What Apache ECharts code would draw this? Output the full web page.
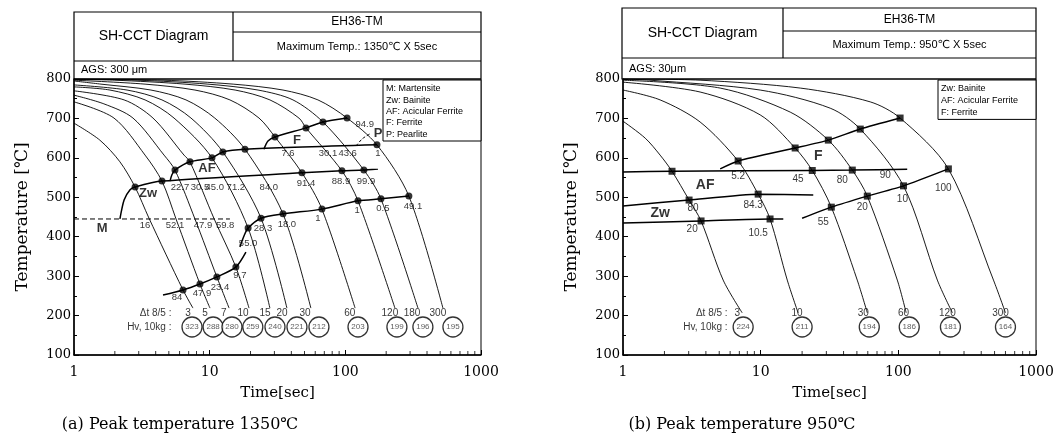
<!DOCTYPE html>
<html>
<head>
<meta charset="utf-8">
<script src="https://cdn.jsdelivr.net/npm/echarts/dist/echarts.min.js"></script>
<style>
  html, body { margin: 0; padding: 0; background: #fff; }
  #chart { width: 1056px; height: 438px; }
</style>
</head>
<body>
<div id="chart"></div>
<script>
// ---- (a) peak temperature 1350 C ----
const coolRatesA = ['3', '5', '7', '10', '15', '20', '30', '60', '120', '180', '300'];
const hardnessA = [323, 288, 280, 259, 240, 221, 212, 203, 199, 196, 195];
const rateTimesA = [6.92, 9.23, 12.7, 17.6, 25.6, 34.1, 50.4, 108, 213, 310, 481];
const hvTimesA = [7.41, 10.6, 14.6, 20.8, 30.3, 44.0, 63.9, 124, 240, 373, 621];

const coolCurvesA = [
  [[1, 688], [1.55, 645], [2.18, 590], [2.82, 526], [3.57, 447], [6.36, 265], [7.53, 219]],
  [[1, 742], [1.97, 701], [3.34, 607], [4.45, 541], [5.65, 445], [8.48, 280], [10.05, 219]],
  [[1, 759], [1.66, 737], [2.72, 701], [4.61, 607], [5.55, 569], [7.79, 445], [11.3, 298], [13.9, 219]],
  [[1, 770], [2.34, 747], [3.82, 701], [6.47, 607], [7.16, 590], [10.8, 445], [15.6, 323], [19.5, 219]],
  [[1, 780], [1.84, 772], [3.34, 747], [5.46, 701], [10.4, 600], [19.2, 422], [27.8, 219]],
  [[1, 785], [2.46, 772], [4.45, 747], [7.28, 701], [12.5, 615], [23.9, 447], [37.1, 219]],
  [[1, 795], [1.58, 787], [3.69, 772], [6.69, 747], [10.9, 701], [18.2, 622], [34.7, 458], [55.7, 219]],
  [[1, 797], [3.34, 787], [7.79, 772], [14.1, 747], [23.1, 701], [30.3, 653], [47.9, 562], [67.2, 470], [118, 219]],
  [[1, 799], [2.0, 797], [6.58, 787], [15.4, 772], [27.8, 747], [45.5, 701], [51.3, 676], [94.4, 567], [124, 491], [232, 219]],
  [[1, 800], [2.96, 797], [9.71, 787], [22.7, 772], [41.1, 747], [68.4, 691], [137, 569], [183, 496], [343, 219]],
  [[1, 800], [4.53, 797], [14.9, 787], [34.7, 772], [62.8, 747], [103, 701], [171, 633], [294, 503], [524, 219]]
];

const zwStartA = [[2.18, 445], [2.34, 493], [2.59, 519], [2.82, 526], [4.45, 541], [47.9, 562], [94.4, 567], [137, 569], [174, 572]];
const afStartA = [[5.10, 541], [5.27, 557], [5.55, 569], [7.16, 590], [10.4, 600], [12.5, 615], [18.2, 622], [171, 633]];
const fStartA = [[25.1, 622], [26.9, 643], [30.3, 653], [51.3, 676], [68.4, 691], [103, 701]];
const zwEndA = [[16.7, 374], [17.9, 402], [19.2, 422], [23.9, 447], [34.7, 458], [67.2, 470], [124, 491], [183, 496], [294, 503]];
const msEndA = [[4.53, 252], [6.36, 265], [8.48, 280], [11.3, 298], [15.6, 323], [18.5, 361]];
const msLineA = [[1, 445], [14.1, 445]];
const pStartA = [[120, 630], [133, 648], [152, 661]];

const dotsA = [
  [2.82, 526], [4.45, 541], [47.9, 562], [94.4, 567], [137, 569],
  [5.55, 569], [7.16, 590], [10.4, 600], [12.5, 615], [18.2, 622], [171, 633],
  [30.3, 653], [51.3, 676], [68.4, 691], [103, 701],
  [19.2, 422], [23.9, 447], [34.7, 458], [67.2, 470], [124, 491], [183, 496], [294, 503],
  [6.36, 265], [8.48, 280], [11.3, 298], [15.6, 323]
];

const phaseNotesA = [['M', 1.61, 422], ['Zw', 3.51, 511], ['AF', 9.55, 574], ['F', 44.0, 645], ['P', 174, 661]];
const fractionNotesA = [
  ['22.7', 6.04, 524], ['30.5', 8.48, 524], ['45.0', 10.9, 524], ['71.2', 15.6, 524], ['84.0', 27.3, 524],
  ['91.4', 51.3, 536], ['88.9', 92.8, 541], ['99.9', 142, 541],
  ['16', 3.34, 430], ['52.1', 5.55, 430], ['47.9', 8.93, 430], ['59.8', 13.0, 430],
  ['7.6', 37.8, 612], ['30.1', 74.5, 612], ['43.6', 104, 612], ['1', 174, 612], ['94.9', 139, 686],
  ['28.3', 24.7, 422], ['18.0', 37.1, 432], ['1', 62.8, 447], ['1', 122, 468], ['0.5', 189, 473], ['49.1', 315, 476],
  ['55.0', 19.2, 384],
  ['84', 5.74, 245], ['47.9', 8.77, 257], ['23.4', 11.9, 272], ['9.7', 16.7, 303]
];
const legendA = ['M: Martensite', 'Zw: Bainite', 'AF: Acicular Ferrite', 'F: Ferrite', 'P: Pearlite'];

// ---- (b) peak temperature 950 C ----
const coolRatesB = ['3', '10', '30', '60', '120', '300'];
const hardnessB = [224, 211, 194, 186, 181, 164];
const rateTimesB = [6.75, 18.4, 55.6, 109, 227, 552];
const hvTimesB = [7.46, 20.0, 61.5, 120, 239, 600];

const coolCurvesB = [
  [[1, 693], [1.45, 650], [1.86, 607], [2.27, 566], [3.02, 493], [3.69, 440], [5.34, 290], [7.34, 207]],
  [[1, 772], [1.86, 747], [3.63, 691], [6.86, 592], [9.59, 508], [11.7, 445], [15.6, 290], [18.7, 207]],
  [[1, 792], [3.63, 767], [9.92, 709], [17.8, 625], [23.7, 568], [32.6, 475], [50.3, 290], [59.5, 207]],
  [[1, 797], [5.08, 777], [16.4, 716], [31.0, 645], [46.3, 569], [59.5, 503], [98.3, 290], [114, 207]],
  [[1, 800], [1.57, 797], [9.92, 772], [32.0, 726], [52.9, 673], [109, 529], [192, 290], [247, 207]],
  [[1, 800], [3.63, 797], [19.4, 777], [62.5, 742], [103, 701], [231, 572], [491, 290], [600, 207]]
];

const fStartB = [[5.08, 572], [6.86, 592], [17.8, 625], [31.0, 645], [52.9, 673], [103, 701]];
const afStartB = [[1, 564], [2.27, 566], [23.7, 568], [46.3, 569], [116, 571]];
const zwStartB = [[1, 478], [3.02, 493], [9.59, 508], [24.1, 506]];
const zwEndB = [[1, 435], [3.69, 440], [11.7, 445], [14.6, 445]];
const lowerRightB = [[20.0, 447], [32.6, 475], [59.5, 503], [109, 529], [231, 572]];

const dotsB = [
  [6.86, 592], [17.8, 625], [31.0, 645], [52.9, 673], [103, 701],
  [2.27, 566], [23.7, 568], [46.3, 569],
  [3.02, 493], [9.59, 508],
  [3.69, 440], [11.7, 445],
  [32.6, 475], [59.5, 503], [109, 529], [231, 572]
];

const phaseNotesB = [['F', 26.2, 605], ['AF', 3.95, 531], ['Zw', 1.86, 460]];
const fractionNotesB = [
  ['5.2', 6.86, 554], ['45', 18.7, 546], ['80', 39.2, 544], ['90', 80.4, 557],
  ['80', 3.23, 473], ['84.3', 8.82, 480], ['20', 3.18, 420], ['10.5', 9.59, 409],
  ['55', 28.5, 437], ['20', 54.7, 475], ['10', 107, 496], ['100', 212, 524]
];
const legendB = ['Zw: Bainite', 'AF: Acicular Ferrite', 'F: Ferrite'];

const minorTickTimes = [2, 3, 4, 5, 6, 7, 8, 9, 20, 30, 40, 50, 60, 70, 80, 90, 200, 300, 400, 500, 600, 700, 800, 900];

const serif = "'DejaVu Serif', 'Liberation Serif', serif";
const sans = "'Liberation Sans', 'DejaVu Sans', Arial, sans-serif";

const grids = [
  { left: 74, top: 79, width: 407, height: 276 },
  { left: 623, top: 79, width: 413, height: 276 }
];

const series = [];

function addLine(gi, data, width, extra) {
  series.push(Object.assign({
    type: 'line', xAxisIndex: gi, yAxisIndex: gi, data: data,
    showSymbol: false, symbol: 'none', smooth: 0.3,
    silent: true, lineStyle: { color: '#000', width: width }
  }, extra || {}));
}

function addDots(gi, data, symbol, size) {
  series.push({
    type: 'scatter', xAxisIndex: gi, yAxisIndex: gi, data: data, silent: true,
    symbol: symbol, symbolSize: size, itemStyle: { color: '#000' }, z: 5
  });
}

function addNotes(gi, notes, fontSize, fontWeight) {
  series.push({
    type: 'scatter', xAxisIndex: gi, yAxisIndex: gi, silent: true, clip: false,
    symbolSize: 1, itemStyle: { color: 'transparent' },
    data: notes.map(n => ({ name: n[0], value: [n[1], n[2]] })),
    label: {
      show: true, position: 'inside', formatter: p => p.name,
      color: '#000', fontFamily: sans, fontSize: fontSize, fontWeight: fontWeight || 'normal'
    }, z: 6
  });
}

function addBottomRows(gi, rates, rateTimes, hv, hvTimes, headTime) {
  addNotes(gi, rates.map((r, i) => [r, rateTimes[i], 205]), 10);
  series.push({
    type: 'scatter', xAxisIndex: gi, yAxisIndex: gi, silent: true, clip: false,
    symbol: 'circle', symbolSize: 20,
    itemStyle: { color: '#fff', borderColor: '#000', borderWidth: 1.3 },
    data: hv.map((h, i) => ({ name: String(h), value: [hvTimes[i], 171] })),
    label: { show: true, position: 'inside', formatter: p => p.name, color: '#333', fontFamily: sans, fontSize: 8 },
    z: 6
  });
  series.push({
    type: 'scatter', xAxisIndex: gi, yAxisIndex: gi, silent: true, clip: false,
    symbolSize: 1, itemStyle: { color: 'transparent' },
    data: [{ name: 'Δt 8/5 :', value: [headTime, 205] }, { name: 'Hv, 10kg :', value: [headTime, 171] }],
    label: { show: true, position: 'left', distance: 0, formatter: p => p.name, color: '#000', fontFamily: sans, fontSize: 10 }
  });
}

function addMinorTicks(gi) {
  series.push({
    type: 'scatter', xAxisIndex: gi, yAxisIndex: gi, silent: true, clip: false,
    symbol: 'rect', symbolSize: [1, 4], symbolOffset: [0, -2],
    itemStyle: { color: '#000' },
    data: minorTickTimes.map(t => [t, 100])
  });
}

// panel (a)
coolCurvesA.forEach(c => addLine(0, c, 0.9));
[zwStartA, afStartA, fStartA, zwEndA, msEndA].forEach(l => addLine(0, l, 1.5, { smooth: 0.25 }));
addLine(0, msLineA, 1, { smooth: false, lineStyle: { color: '#000', width: 1, type: [5, 3] } });
addLine(0, pStartA, 1, { lineStyle: { color: '#000', width: 1, type: [3, 2] } });
addDots(0, dotsA, 'circle', 7);
addNotes(0, phaseNotesA, 13, 'bold');
addNotes(0, fractionNotesA, 9.5);
addBottomRows(0, coolRatesA, rateTimesA, hardnessA, hvTimesA, 5.27);
addMinorTicks(0);

// panel (b)
coolCurvesB.forEach(c => addLine(1, c, 0.9));
[fStartB, afStartB, zwStartB, zwEndB, lowerRightB].forEach(l => addLine(1, l, 1.5, { smooth: 0.2 }));
addDots(1, dotsB, 'rect', 7);
addNotes(1, phaseNotesB, 14, 'bold');
addNotes(1, fractionNotesB, 10);
addBottomRows(1, coolRatesB, rateTimesB, hardnessB, hvTimesB, 5.80);
addMinorTicks(1);

const axisLineStyle = { color: '#000', width: 1.5 };

const xAxes = grids.map((g, i) => ({
  type: 'log', logBase: 10, min: 1, max: 1000, gridIndex: i,
  axisLine: { show: true, lineStyle: axisLineStyle },
  axisTick: { show: true, inside: true, length: 5, lineStyle: { color: '#000', width: 1 } },
  splitLine: { show: false },
  axisLabel: { color: '#000', fontFamily: serif, fontSize: 14, margin: 10, formatter: v => String(Math.round(v)) },
  name: 'Time[sec]', nameLocation: 'middle', nameGap: 31,
  nameTextStyle: { color: '#000', fontFamily: serif, fontSize: 15 }
}));

const yAxes = grids.map((g, i) => ({
  type: 'value', min: 100, max: 800, interval: 100, gridIndex: i,
  axisLine: { show: true, lineStyle: axisLineStyle },
  axisTick: { show: true, inside: true, length: 5, lineStyle: { color: '#000', width: 1 } },
  minorTick: { show: true, splitNumber: 2, length: 3, lineStyle: { color: '#000', width: 1 } },
  splitLine: { show: false },
  minorSplitLine: { show: false },
  axisLabel: { color: '#000', fontFamily: serif, fontSize: 13, margin: 3 },
  name: 'Temperature [℃]', nameLocation: 'middle', nameGap: 43, nameRotate: 90,
  nameTextStyle: { color: '#000', fontFamily: serif, fontSize: 17 }
}));

// header boxes, legends and captions
const graphics = [];
function rect(x, y, w, h) {
  graphics.push({ type: 'rect', shape: { x: x, y: y, width: w, height: h }, style: { fill: 'none', stroke: '#000', lineWidth: 1.2 }, silent: true });
}
function hline(x1, x2, y) {
  graphics.push({ type: 'line', shape: { x1: x1, y1: y, x2: x2, y2: y }, style: { stroke: '#000', lineWidth: 1.2 }, silent: true });
}
function vline(x, y1, y2) {
  graphics.push({ type: 'line', shape: { x1: x, y1: y1, x2: x, y2: y2 }, style: { stroke: '#000', lineWidth: 1.2 }, silent: true });
}
function text(str, x, y, size, align, family) {
  graphics.push({
    type: 'text', x: x, y: y, silent: true,
    style: { text: str, fill: '#000', fontSize: size, fontFamily: family || sans, align: align || 'center', verticalAlign: 'middle' }
  });
}

function header(x0, x1, top, xDiv, yMid, yBot, yPlot, lines) {
  rect(x0, top, x1 - x0, yPlot - top);
  vline(xDiv, top, yBot);
  hline(xDiv, x1, yMid);
  hline(x0, x1, yBot);
  text(lines[0], (x0 + xDiv) / 2, (top + yBot) / 2, 14);
  text(lines[1], (xDiv + x1) / 2, (top + yMid) / 2, 12);
  text(lines[2], (xDiv + x1) / 2, (yMid + yBot) / 2, 11);
  text(lines[3], x0 + 7, (yBot + yPlot) / 2, 11, 'left');
}
header(74, 481, 12, 233, 32, 61, 79, ['SH-CCT Diagram', 'EH36-TM', 'Maximum Temp.: 1350℃ X 5sec', 'AGS: 300 μm']);
header(622, 1036, 8, 783, 31, 58, 79, ['SH-CCT Diagram', 'EH36-TM', 'Maximum Temp.: 950℃ X 5sec', 'AGS: 30μm']);

function legendBox(x, y, w, rowH, items) {
  graphics.push({ type: 'rect', shape: { x: x, y: y, width: w, height: rowH * items.length + 4 }, style: { fill: '#fff', stroke: '#000', lineWidth: 1 }, silent: true, z: 10 });
  items.forEach((s, i) => {
    graphics.push({
      type: 'text', x: x + 3, y: y + 3 + rowH * (i + 0.5), silent: true, z: 11,
      style: { text: s, fill: '#000', fontSize: 9, fontFamily: sans, align: 'left', verticalAlign: 'middle' }
    });
  });
}
legendBox(383, 80, 98, 11.4, legendA);
legendBox(938, 80, 98, 11.8, legendB);

text('(a) Peak temperature 1350℃', 180, 425, 16, 'center', serif);
text('(b) Peak temperature 950℃', 742, 425, 16, 'center', serif);

const chart = echarts.init(document.getElementById('chart'), null, { renderer: 'canvas' });
chart.setOption({
  animation: false,
  backgroundColor: '#fff',
  grid: grids.map(g => Object.assign({ show: true, borderColor: '#000', borderWidth: 1, backgroundColor: 'transparent', containLabel: false, outerBoundsMode: 'none' }, g)),
  xAxis: xAxes,
  yAxis: yAxes,
  series: series,
  graphic: { elements: graphics }
});
</script>
</body>
</html>
